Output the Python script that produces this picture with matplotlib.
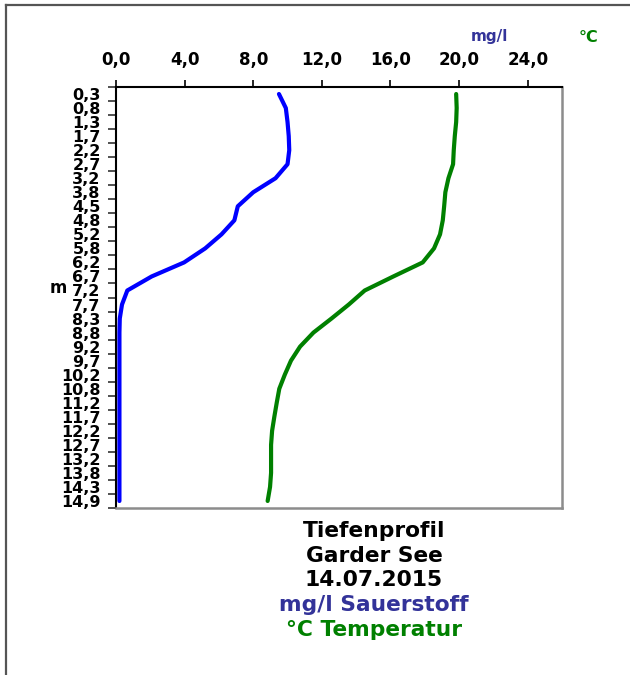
import matplotlib
matplotlib.use("Agg")
import matplotlib.pyplot as plt
from matplotlib.lines import Line2D

# depth labels (m) and measured values per depth
depths = ["0,3", "0,8", "1,3", "1,7", "2,2", "2,7", "3,2", "3,8", "4,5", "4,8",
          "5,2", "5,8", "6,2", "6,7", "7,2", "7,7", "8,3", "8,8", "9,2", "9,7",
          "10,2", "10,8", "11,2", "11,7", "12,2", "12,7", "13,2", "13,8", "14,3", "14,9"]
oxygen = [9.5, 9.9, 10.0, 10.07, 10.1, 10.0, 9.3, 8.0, 7.1, 6.9,
          6.15, 5.2, 3.97, 2.08, 0.66, 0.35, 0.22, 0.2, 0.2, 0.2,
          0.2, 0.2, 0.2, 0.2, 0.2, 0.2, 0.2, 0.2, 0.2, 0.2]
temperature = [19.83, 19.86, 19.83, 19.75, 19.69, 19.65, 19.38, 19.2, 19.13, 19.05,
               18.89, 18.54, 17.88, 16.17, 14.5, 13.57, 12.56, 11.51, 10.73, 10.2,
               9.84, 9.52, 9.37, 9.23, 9.1, 9.04, 9.04, 9.04, 8.98, 8.84]
x_ticks = [0, 4, 8, 12, 16, 20, 24]

plt.rcParams["font.family"] = ["DejaVu Sans"]
plt.rcParams["font.weight"] = "bold"

W, H = 630, 675
fig = plt.figure(figsize=(W / 100, H / 100), dpi=100)

# plot area in pixel coordinates of the reference
left, right, top, bottom = 116, 562, 87, 508
ax = fig.add_axes([left / W, 1 - bottom / H, (right - left) / W, (bottom - top) / H])

pos = list(range(len(depths)))
ax.plot(oxygen, pos, color="#0000FF", lw=3, solid_capstyle="round", solid_joinstyle="round")
ax.plot(temperature, pos, color="#008000", lw=3, solid_capstyle="round", solid_joinstyle="round")

ax.set_xlim(0, 26)
ax.set_ylim(len(depths) - 0.5, -0.5)

# x axis on top
ax.xaxis.tick_top()
ax.set_xticks(x_ticks)
ax.set_xticklabels([f"{v:.1f}".replace(".", ",") for v in x_ticks],
                   fontsize=12, fontweight="bold")
ax.tick_params(axis="x", which="major", direction="out", length=5, width=1.2,
               pad=8, color="black")

# y axis: labels at category centres, ticks at boundaries
ax.set_yticks(pos)
ax.set_yticklabels(depths, fontsize=11.5, fontweight="bold")
ax.set_yticks([p - 0.5 for p in pos] + [len(depths) - 0.5], minor=True)
ax.tick_params(axis="y", which="major", length=0, pad=11)
ax.tick_params(axis="y", which="minor", direction="out", length=6, width=1.2, color="#333333")

for s in ["top", "left"]:
    ax.spines[s].set_color("black")
    ax.spines[s].set_linewidth(1.5)
for s in ["right", "bottom"]:
    ax.spines[s].set_color("#8c8c8c")
    ax.spines[s].set_linewidth(1.8)

# axis unit labels
fig.text(58 / W, 1 - 288 / H, "m", fontsize=12, fontweight="bold", ha="center", va="center")
fig.text(489 / W, 1 - 37 / H, "mg/l", fontsize=11, fontweight="bold", color="#333399",
         ha="center", va="center")
fig.text(589 / W, 1 - 37 / H, "°C", fontsize=11.5, fontweight="bold", color="#008000",
         ha="center", va="center")

# caption under the chart
caption = [("Tiefenprofil", "black"), ("Garder See", "black"), ("14.07.2015", "black"),
           ("mg/l Sauerstoff", "#333399"), ("°C Temperatur", "#008000")]
for i, (txt, col) in enumerate(caption):
    fig.text(374 / W, 1 - (531 + 24.7 * i) / H, txt, fontsize=15.7, fontweight="bold",
             color=col, ha="center", va="center")

# outer frame (left and top edge)
fig.add_artist(Line2D([6 / W, 6 / W], [0, 1 - 5 / H], transform=fig.transFigure,
                      color="#555555", lw=1.6))
fig.add_artist(Line2D([6 / W, 1], [1 - 5 / H, 1 - 5 / H], transform=fig.transFigure,
                      color="#555555", lw=1.6))

fig.savefig("out.png", dpi=100)
